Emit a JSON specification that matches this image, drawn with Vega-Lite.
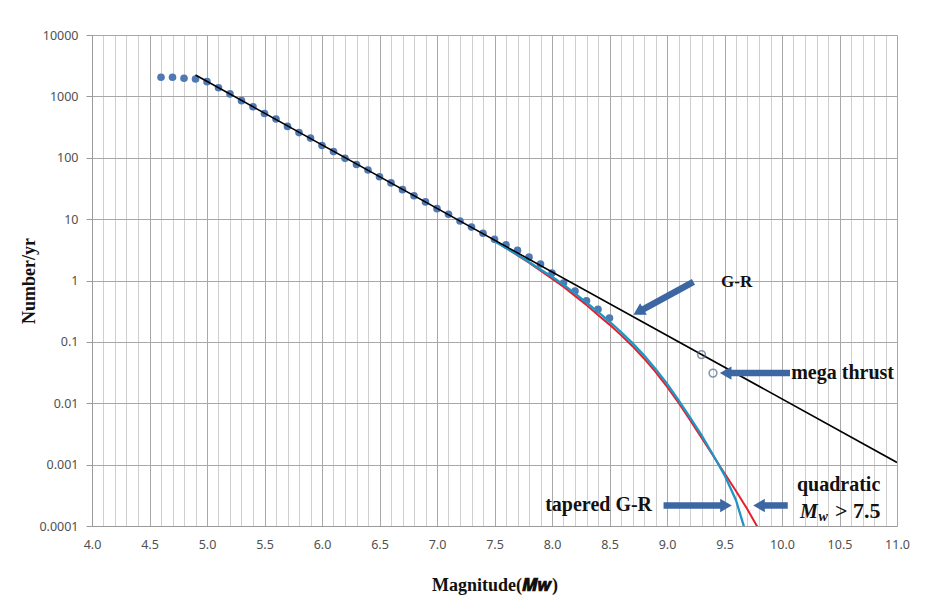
{
  "$schema": "https://vega.github.io/schema/vega-lite/v6.json",
  "width": 805,
  "height": 491,
  "autosize": "none",
  "padding": {"left": 92, "top": 35, "right": 47, "bottom": 85},
  "background": "white",
  "config": {"view": {"stroke": null}},
  "datasets": {
    "dots": [
      {"M": 4.6, "N": 2050}, {"M": 4.7, "N": 2050}, {"M": 4.8, "N": 1970}, {"M": 4.9, "N": 1920},
      {"M": 5.0, "N": 1738}, {"M": 5.1, "N": 1380}, {"M": 5.2, "N": 1096}, {"M": 5.3, "N": 851},
      {"M": 5.4, "N": 676}, {"M": 5.5, "N": 525}, {"M": 5.6, "N": 427}, {"M": 5.7, "N": 324},
      {"M": 5.8, "N": 257}, {"M": 5.9, "N": 209}, {"M": 6.0, "N": 158}, {"M": 6.1, "N": 126},
      {"M": 6.2, "N": 97.7}, {"M": 6.3, "N": 77.6}, {"M": 6.4, "N": 63.1}, {"M": 6.5, "N": 49.0},
      {"M": 6.6, "N": 38.9}, {"M": 6.7, "N": 30.2}, {"M": 6.8, "N": 24.0}, {"M": 6.9, "N": 19.1},
      {"M": 7.0, "N": 14.8}, {"M": 7.1, "N": 12.0}, {"M": 7.2, "N": 9.33}, {"M": 7.3, "N": 7.41},
      {"M": 7.4, "N": 5.89}, {"M": 7.5, "N": 4.68}, {"M": 7.6, "N": 3.80}, {"M": 7.7, "N": 3.09},
      {"M": 7.8, "N": 2.40}, {"M": 7.9, "N": 1.86}, {"M": 8.0, "N": 1.32}, {"M": 8.1, "N": 0.912},
      {"M": 8.2, "N": 0.676}, {"M": 8.3, "N": 0.468}, {"M": 8.4, "N": 0.339}, {"M": 8.5, "N": 0.245}
    ],
    "gr": [{"M": 4.9, "N": 2231}, {"M": 11.0, "N": 0.001084}],
    "curves": [
      {"model": "tapered G-R", "M": 7.5, "N": 4.365}, {"model": "tapered G-R", "M": 7.6, "N": 3.388},
      {"model": "tapered G-R", "M": 7.7, "N": 2.630}, {"model": "tapered G-R", "M": 7.8, "N": 1.995},
      {"model": "tapered G-R", "M": 7.9, "N": 1.514}, {"model": "tapered G-R", "M": 8.0, "N": 1.148},
      {"model": "tapered G-R", "M": 8.1, "N": 0.851}, {"model": "tapered G-R", "M": 8.2, "N": 0.617},
      {"model": "tapered G-R", "M": 8.3, "N": 0.437}, {"model": "tapered G-R", "M": 8.4, "N": 0.309},
      {"model": "tapered G-R", "M": 8.5, "N": 0.214}, {"model": "tapered G-R", "M": 8.6, "N": 0.145},
      {"model": "tapered G-R", "M": 8.7, "N": 0.0955}, {"model": "tapered G-R", "M": 8.8, "N": 0.0603},
      {"model": "tapered G-R", "M": 8.9, "N": 0.0363}, {"model": "tapered G-R", "M": 9.0, "N": 0.0209},
      {"model": "tapered G-R", "M": 9.1, "N": 0.0112}, {"model": "tapered G-R", "M": 9.2, "N": 0.00589},
      {"model": "tapered G-R", "M": 9.3, "N": 0.00302}, {"model": "tapered G-R", "M": 9.4, "N": 0.00145},
      {"model": "tapered G-R", "M": 9.5, "N": 0.000676}, {"model": "tapered G-R", "M": 9.6, "N": 0.000263},
      {"model": "tapered G-R", "M": 9.7, "N": 0.0000631},
      {"model": "quadratic", "M": 7.5, "N": 4.467}, {"model": "quadratic", "M": 7.6, "N": 3.388},
      {"model": "quadratic", "M": 7.7, "N": 2.570}, {"model": "quadratic", "M": 7.8, "N": 1.950},
      {"model": "quadratic", "M": 7.9, "N": 1.445}, {"model": "quadratic", "M": 8.0, "N": 1.072},
      {"model": "quadratic", "M": 8.1, "N": 0.794}, {"model": "quadratic", "M": 8.2, "N": 0.562},
      {"model": "quadratic", "M": 8.3, "N": 0.398}, {"model": "quadratic", "M": 8.4, "N": 0.275},
      {"model": "quadratic", "M": 8.5, "N": 0.191}, {"model": "quadratic", "M": 8.6, "N": 0.129},
      {"model": "quadratic", "M": 8.7, "N": 0.0851}, {"model": "quadratic", "M": 8.8, "N": 0.0537},
      {"model": "quadratic", "M": 8.9, "N": 0.0324}, {"model": "quadratic", "M": 9.0, "N": 0.0186},
      {"model": "quadratic", "M": 9.1, "N": 0.0102}, {"model": "quadratic", "M": 9.2, "N": 0.00537},
      {"model": "quadratic", "M": 9.3, "N": 0.00275}, {"model": "quadratic", "M": 9.4, "N": 0.00141},
      {"model": "quadratic", "M": 9.5, "N": 0.000724}, {"model": "quadratic", "M": 9.6, "N": 0.000372},
      {"model": "quadratic", "M": 9.7, "N": 0.000186}, {"model": "quadratic", "M": 9.8, "N": 0.0000871}
    ],
    "mega": [{"M": 9.30, "N": 0.062}, {"M": 9.40, "N": 0.031}],
    "shafts": [
      {"x": 8.752, "y": 0.308, "x2": 9.23, "y2": 0.95},
      {"x": 9.51, "y": 0.031, "x2": 10.07, "y2": 0.031},
      {"x": 8.97, "y": 0.000216, "x2": 9.513, "y2": 0.000216},
      {"x": 9.80, "y": 0.000216, "x2": 10.05, "y2": 0.000216}
    ],
    "headsLeft": [{"x": 9.51, "y": 0.031}, {"x": 9.80, "y": 0.000216}],
    "headsRight": [{"x": 9.513, "y": 0.000216}],
    "headsAngled": [{"x": 8.752, "y": 0.308}],
    "labelGR": [{"x": 9.47, "y": 0.93, "t": "G-R"}],
    "labelsLeft": [
      {"x": 10.08, "y": 0.031, "t": "mega thrust"},
      {"x": 10.13, "y": 0.00047, "t": "quadratic"}
    ],
    "labelsGt": [{"x": 10.46, "y": 0.000178, "t": "> 7.5"}],
    "labelsRight": [{"x": 8.87, "y": 0.000216, "t": "tapered G-R"}],
    "labelsItalic": [{"x": 10.157, "y": 0.00017, "t": "M"}],
    "labelsSub": [{"x": 10.318, "y": 0.000141, "t": "w"}]
  },
  "encoding": {
    "x": {
      "field": "M", "type": "quantitative",
      "scale": {"domain": [4, 11], "nice": false, "zero": false},
      "axis": {
        "values": [4.0,4.1,4.2,4.3,4.4,4.5,4.6,4.7,4.8,4.9,5.0,5.1,5.2,5.3,5.4,5.5,5.6,5.7,5.8,5.9,6.0,6.1,6.2,6.3,6.4,6.5,6.6,6.7,6.8,6.9,7.0,7.1,7.2,7.3,7.4,7.5,7.6,7.7,7.8,7.9,8.0,8.1,8.2,8.3,8.4,8.5,8.6,8.7,8.8,8.9,9.0,9.1,9.2,9.3,9.4,9.5,9.6,9.7,9.8,9.9,10.0,10.1,10.2,10.3,10.4,10.5,10.6,10.7,10.8,10.9,11.0],
        "labelExpr": "abs(datum.value*2 - round(datum.value*2)) < 0.01 ? format(datum.value, '.1f') : ''",
        "grid": true,
        "gridColor": {"condition": {"test": "abs(datum.value*2 - round(datum.value*2)) < 0.01", "value": "#a8a8a8"}, "value": "#cfcfcf"},
        "gridWidth": 1,
        "ticks": false,
        "tickSize": 0,
        "domain": true,
        "domainColor": "#9a9a9a",
        "labelFont": "Noto Sans",
        "labelFontSize": 12.5,
        "labelColor": "#505050",
        "labelPadding": 12,
        "labelOverlap": false,
        "labelFlush": false,
        "title": "Magnitude(𝑴𝒘)",
        "titleFont": "Liberation Serif",
        "titleFontSize": 18,
        "titleFontWeight": "bold",
        "titleColor": "#111111",
        "titlePadding": 26
      }
    },
    "y": {
      "field": "N", "type": "quantitative",
      "scale": {"type": "log", "domain": [0.0001, 10000], "nice": false},
      "axis": {
        "values": [0.0001, 0.001, 0.01, 0.1, 1, 10, 100, 1000, 10000],
        "format": "~g",
        "grid": true,
        "gridColor": "#a8a8a8",
        "ticks": true,
        "tickSize": 6,
        "tickColor": "#9a9a9a",
        "domain": true,
        "domainColor": "#9a9a9a",
        "labelFont": "Noto Sans",
        "labelFontSize": 12.5,
        "labelColor": "#505050",
        "labelPadding": 8,
        "title": "Number/yr",
        "titleFont": "Liberation Serif",
        "titleFontSize": 18,
        "titleFontWeight": "bold",
        "titleColor": "#111111",
        "titlePadding": 0
      }
    }
  },
  "layer": [
    {
      "data": {"name": "dots"},
      "mark": {"type": "point", "filled": true, "shape": "circle", "size": 58, "color": "#5079b3", "opacity": 1}
    },
    {
      "data": {"name": "curves"},
      "transform": [{"filter": "datum.model == 'quadratic'"}],
      "mark": {"type": "line", "color": "#e5202a", "strokeWidth": 2, "clip": true},
      "encoding": {"order": {"field": "M"}}
    },
    {
      "data": {"name": "curves"},
      "transform": [{"filter": "datum.model == 'tapered G-R'"}],
      "mark": {"type": "line", "color": "#1f95c4", "strokeWidth": 2.3, "clip": true},
      "encoding": {"order": {"field": "M"}}
    },
    {
      "data": {"name": "gr"},
      "mark": {"type": "line", "color": "#000000", "strokeWidth": 1.6, "clip": true},
      "encoding": {}
    },
    {
      "data": {"name": "mega"},
      "mark": {"type": "point", "filled": false, "shape": "circle", "size": 60, "stroke": "#56698a", "strokeWidth": 1.6}
    },
    {
      "data": {"name": "shafts"},
      "mark": {"type": "rule", "color": "#3d67a3", "strokeWidth": 6.5, "strokeCap": "butt"},
      "encoding": {
        "x": {"field": "x", "type": "quantitative"},
        "y": {"field": "y", "type": "quantitative"},
        "x2": {"field": "x2"},
        "y2": {"field": "y2"}
      }
    },
    {
      "data": {"name": "headsLeft"},
      "mark": {"type": "point", "filled": true, "shape": "triangle-left", "size": 180, "color": "#3d67a3", "opacity": 1},
      "encoding": {"x": {"field": "x", "type": "quantitative"}, "y": {"field": "y", "type": "quantitative"}}
    },
    {
      "data": {"name": "headsRight"},
      "mark": {"type": "point", "filled": true, "shape": "triangle-right", "size": 180, "color": "#3d67a3", "opacity": 1},
      "encoding": {"x": {"field": "x", "type": "quantitative"}, "y": {"field": "y", "type": "quantitative"}}
    },
    {
      "data": {"name": "headsAngled"},
      "mark": {"type": "point", "filled": true, "shape": "triangle-left", "size": 180, "angle": 329.6, "color": "#3d67a3", "opacity": 1},
      "encoding": {"x": {"field": "x", "type": "quantitative"}, "y": {"field": "y", "type": "quantitative"}}
    },
    {
      "data": {"name": "labelGR"},
      "mark": {"type": "text", "align": "left", "baseline": "middle", "font": "Liberation Serif", "fontWeight": "bold", "fontSize": 17, "color": "#111111"},
      "encoding": {"x": {"field": "x", "type": "quantitative"}, "y": {"field": "y", "type": "quantitative"}, "text": {"field": "t"}}
    },
    {
      "data": {"name": "labelsLeft"},
      "mark": {"type": "text", "align": "left", "baseline": "middle", "font": "Liberation Serif", "fontWeight": "bold", "fontSize": 20, "color": "#111111"},
      "encoding": {"x": {"field": "x", "type": "quantitative"}, "y": {"field": "y", "type": "quantitative"}, "text": {"field": "t"}}
    },
    {
      "data": {"name": "labelsGt"},
      "mark": {"type": "text", "align": "left", "baseline": "middle", "font": "Liberation Serif", "fontWeight": "bold", "fontSize": 22, "color": "#111111"},
      "encoding": {"x": {"field": "x", "type": "quantitative"}, "y": {"field": "y", "type": "quantitative"}, "text": {"field": "t"}}
    },
    {
      "data": {"name": "labelsRight"},
      "mark": {"type": "text", "align": "right", "baseline": "middle", "font": "Liberation Serif", "fontWeight": "bold", "fontSize": 20, "color": "#111111"},
      "encoding": {"x": {"field": "x", "type": "quantitative"}, "y": {"field": "y", "type": "quantitative"}, "text": {"field": "t"}}
    },
    {
      "data": {"name": "labelsItalic"},
      "mark": {"type": "text", "align": "left", "baseline": "middle", "font": "Liberation Serif", "fontWeight": "bold", "fontStyle": "italic", "fontSize": 20, "color": "#111111"},
      "encoding": {"x": {"field": "x", "type": "quantitative"}, "y": {"field": "y", "type": "quantitative"}, "text": {"field": "t"}}
    },
    {
      "data": {"name": "labelsSub"},
      "mark": {"type": "text", "align": "left", "baseline": "middle", "font": "Liberation Serif", "fontWeight": "bold", "fontStyle": "italic", "fontSize": 14, "color": "#111111"},
      "encoding": {"x": {"field": "x", "type": "quantitative"}, "y": {"field": "y", "type": "quantitative"}, "text": {"field": "t"}}
    }
  ]
}
